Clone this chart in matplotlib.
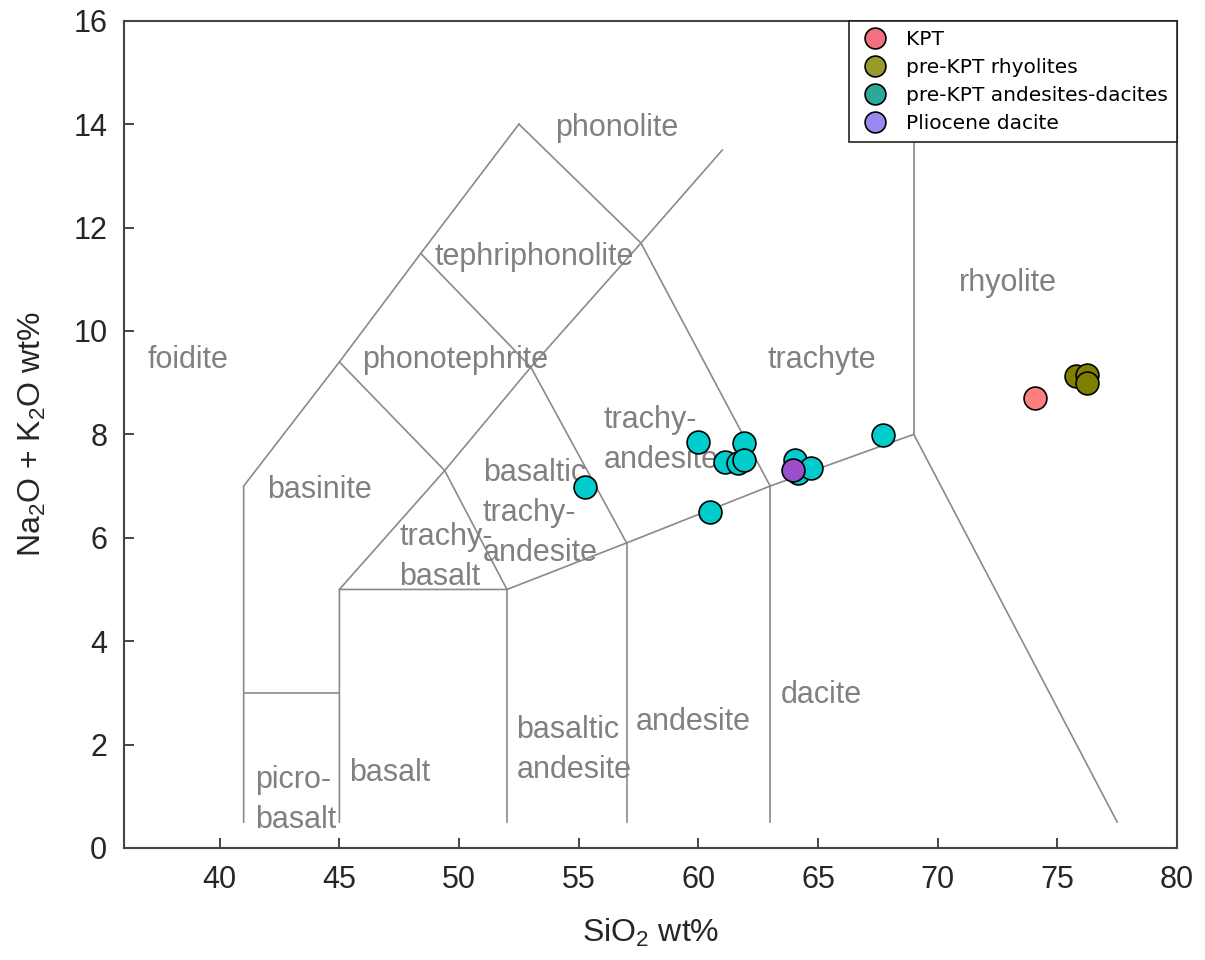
import matplotlib.pyplot as plt
from matplotlib.lines import Line2D

plt.rcParams['font.family'] = ['Liberation Sans', 'DejaVu Sans']

# samples: SiO2, Na2O+K2O
kpt_si = [74.07]
kpt_alk = [8.71]
rhy_si = [75.76, 76.25, 76.25]
rhy_alk = [9.12, 9.15, 8.99]
and_si = [55.28, 60.0, 60.49, 61.1, 61.67, 61.9, 61.9, 64.03, 64.17, 64.7, 67.7]
and_alk = [6.99, 7.85, 6.5, 7.46, 7.45, 7.83, 7.5, 7.5, 7.25, 7.34, 7.99]
plio_si = [63.96]
plio_alk = [7.31]

# TAS field boundaries (Le Bas et al. 1986)
tas_lines = [
    [(41, 0.5), (41, 7), (45, 9.4), (48.4, 11.5), (52.5, 14)],
    [(41, 3), (45, 3)],
    [(45, 0.5), (45, 5), (52, 5), (57, 5.9), (63, 7), (69, 8), (77.5, 0.5)],
    [(45, 5), (49.4, 7.3), (53, 9.3), (57.6, 11.7), (61, 13.5)],
    [(45, 9.4), (49.4, 7.3), (52, 5)],
    [(48.4, 11.5), (53, 9.3), (57, 5.9)],
    [(52.5, 14), (57.6, 11.7), (63, 7)],
    [(52, 0.5), (52, 5)],
    [(57, 0.5), (57, 5.9)],
    [(63, 0.5), (63, 7)],
    [(69, 8), (69, 16)],
]

field_names = ['foidite', 'phonolite', 'tephriphonolite', 'phonotephrite', 'trachyte',
               'rhyolite', 'trachy-\nandesite', 'basinite', 'basaltic\ntrachy-\nandesite',
               'trachy-\nbasalt', 'dacite', 'andesite', 'basaltic\nandesite', 'basalt',
               'picro-\nbasalt']
field_x = [37.0, 54.0, 48.96, 45.96, 62.9, 70.9, 56.04, 41.96, 51.0, 47.5, 63.46, 57.4,
           52.4, 45.4, 41.46]
field_y = [9.44, 13.93, 11.43, 9.44, 9.44, 10.93, 7.89, 6.92, 6.48, 5.63, 2.96, 2.44,
           1.9, 1.45, 0.93]

fig = plt.figure(figsize=(12.05, 9.6), dpi=100)
ax = fig.add_axes([0.1029, 0.1167, 0.8739, 0.8617])

for seg in tas_lines:
    xs = [p[0] for p in seg]
    ys = [p[1] for p in seg]
    ax.plot(xs, ys, color='#8a8a8a', lw=1.2, zorder=1)

for name, x, y in zip(field_names, field_x, field_y):
    ax.text(x, y, name, color='#808080', fontsize=22, ha='left', va='center',
            linespacing=1.45, zorder=2)

ms = 270
ax.scatter(and_si, and_alk, s=ms, c='#00cccc', edgecolors='black', linewidths=1.2, zorder=3)
ax.scatter(plio_si, plio_alk, s=ms, c='#9a4fcb', edgecolors='black', linewidths=1.2, zorder=4)
ax.scatter(kpt_si, kpt_alk, s=ms, c='#ff7f7f', edgecolors='black', linewidths=1.2, zorder=3)
ax.scatter(rhy_si, rhy_alk, s=ms, c='#808000', edgecolors='black', linewidths=1.2, zorder=3)

handles = [
    Line2D([], [], ls='none', marker='o', ms=15, mfc='#f2707f', mec='black', mew=1.2),
    Line2D([], [], ls='none', marker='o', ms=15, mfc='#9a9a2a', mec='black', mew=1.2),
    Line2D([], [], ls='none', marker='o', ms=15, mfc='#2aa898', mec='black', mew=1.2),
    Line2D([], [], ls='none', marker='o', ms=15, mfc='#9988ee', mec='black', mew=1.2),
]
labels = ['KPT', 'pre-KPT rhyolites', 'pre-KPT andesites-dacites', 'Pliocene dacite']
leg = ax.legend(handles, labels, loc='upper right', borderaxespad=0, fancybox=False,
                framealpha=1, edgecolor='#222222', prop={'family': 'DejaVu Sans', 'size': 14.5},
                handletextpad=0.7, labelspacing=0.45, borderpad=0.45, handlelength=1.7)
leg.get_frame().set_linewidth(1.2)
leg.set_zorder(10)

ax.set_xlim(36, 80)
ax.set_ylim(0, 16)
ax.set_xticks(range(40, 81, 5))
ax.set_yticks(range(0, 17, 2))
ax.tick_params(direction='in', length=7, width=1.2, labelsize=22, colors='#262626', pad=12)
for sp in ax.spines.values():
    sp.set_color('#444444')
    sp.set_linewidth(1.5)

ax.set_xlabel(r'SiO$_\mathregular{2}$ wt%', fontsize=23, color='#262626', labelpad=16)
ax.set_ylabel(r'Na$_\mathregular{2}$O + K$_\mathregular{2}$O wt%', fontsize=23,
              color='#262626', labelpad=18)

fig.savefig('out.png', dpi=100)
